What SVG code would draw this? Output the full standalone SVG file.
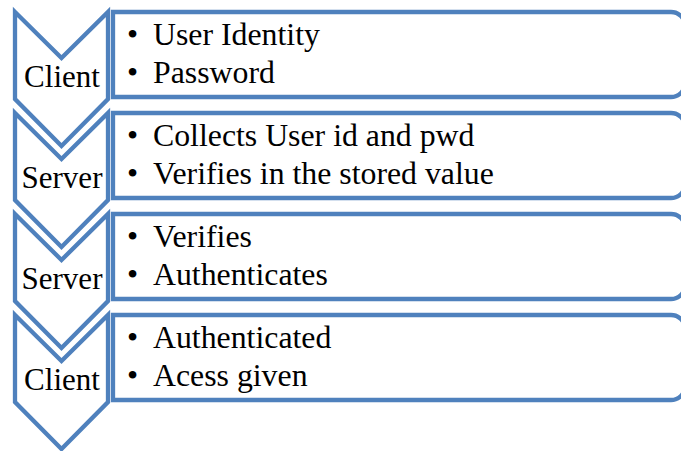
<svg xmlns="http://www.w3.org/2000/svg" width="681" height="451" viewBox="0 0 681 451">
<style>
.sh{fill:#fff;stroke:#4F81BD;stroke-width:4.3;stroke-linejoin:miter}
.t{font-family:"Liberation Serif","Times New Roman",serif;font-size:31.8px;fill:#000}
.c{text-anchor:middle;font-size:31px}
</style>
<defs>
<path id="chev" d="M15,0 L61.5,46 L108,0 L108,87 L61.5,134 L15,87 Z"/>
<path id="box" d="M113,0 H671 A14,14 0 0 1 685,14 V71 A14,14 0 0 1 671,85 H113 Z"/>
</defs>
<rect width="681" height="451" fill="#fff"/>
<g id="step1" transform="translate(0,12)">
<use href="#box" class="sh"/>
<use href="#chev" class="sh"/>
<text class="t c" x="62" y="75">Client</text>
<text class="t" x="127" y="33">•</text><text class="t" x="153" y="33">User Identity</text>
<text class="t" x="127" y="71">•</text><text class="t" x="153" y="71">Password</text>
</g>
<g id="step2" transform="translate(0,113)">
<use href="#box" class="sh"/>
<use href="#chev" class="sh"/>
<text class="t c" x="62" y="75">Server</text>
<text class="t" x="127" y="33">•</text><text class="t" x="153" y="33">Collects User id and pwd</text>
<text class="t" x="127" y="71">•</text><text class="t" x="153" y="71">Verifies in the stored value</text>
</g>
<g id="step3" transform="translate(0,214)">
<use href="#box" class="sh"/>
<use href="#chev" class="sh"/>
<text class="t c" x="62" y="75">Server</text>
<text class="t" x="127" y="33">•</text><text class="t" x="153" y="33">Verifies</text>
<text class="t" x="127" y="71">•</text><text class="t" x="153" y="71">Authenticates</text>
</g>
<g id="step4" transform="translate(0,315)">
<use href="#box" class="sh"/>
<use href="#chev" class="sh"/>
<text class="t c" x="62" y="75">Client</text>
<text class="t" x="127" y="33">•</text><text class="t" x="153" y="33">Authenticated</text>
<text class="t" x="127" y="71">•</text><text class="t" x="153" y="71">Acess given</text>
</g>
<g id="connectors"></g>
</svg>
